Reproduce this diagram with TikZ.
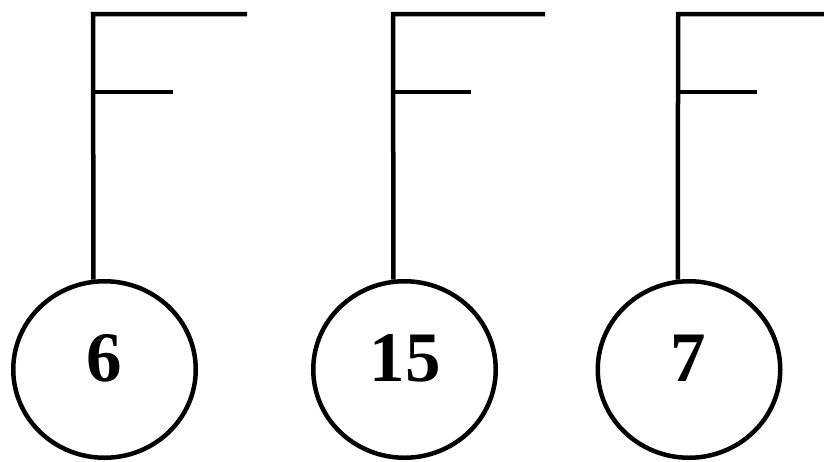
\documentclass[tikz,border=0pt]{standalone}
\usepackage{fontspec}
\setmainfont{Liberation Serif}
\usetikzlibrary{math}
\usetikzlibrary{shapes.geometric}

\tikzset{
  ball/.style={draw, ellipse, line width=4.5pt, inner sep=0pt,
    minimum width=182.5pt, minimum height=176.5pt},
  num/.style={inner sep=0pt, font=\fontsize{71}{71}\selectfont\bfseries},
  stem/.style={line width=4.5pt}
}

\begin{document}
\begin{tikzpicture}[x=1pt,y=-1pt]
\tikzmath{
\ytop=14;
\ymid=92;
}
\useasboundingbox (0,0) rectangle (824,461);

% the three balls
\node[ball] (ball6) at (104.5,369.5) {};
\node[ball] (ball15) at (404.5,369.5) {};
\node[ball] (ball7) at (689,369.5) {};

\node[num] (num6) at (104,358) {6};
\node[num] (num15) at (405,358) {15};
\node[num] (num7) at (688,358) {7};

% stems
\coordinate (top6) at (93,\ytop);
\coordinate (end6) at (247,\ytop);
\coordinate (mid6) at (93,\ymid);
\coordinate (arm6) at (173,\ymid);
\draw[stem] (ball6.97) -- (top6) -- (end6);
\draw[stem] (mid6) -- (arm6);

\coordinate (top15) at (393,\ytop);
\coordinate (end15) at (545,\ytop);
\coordinate (mid15) at (393,\ymid);
\coordinate (arm15) at (471,\ymid);
\draw[stem] (ball15.97) -- (top15) -- (end15);
\draw[stem] (mid15) -- (arm15);

\coordinate (top7) at (678,\ytop);
\coordinate (end7) at (824,\ytop);
\coordinate (mid7) at (678,\ymid);
\coordinate (arm7) at (757,\ymid);
\draw[stem] (ball7.97) -- (top7) -- (end7);
\draw[stem] (mid7) -- (arm7);

\end{tikzpicture}
\end{document}
